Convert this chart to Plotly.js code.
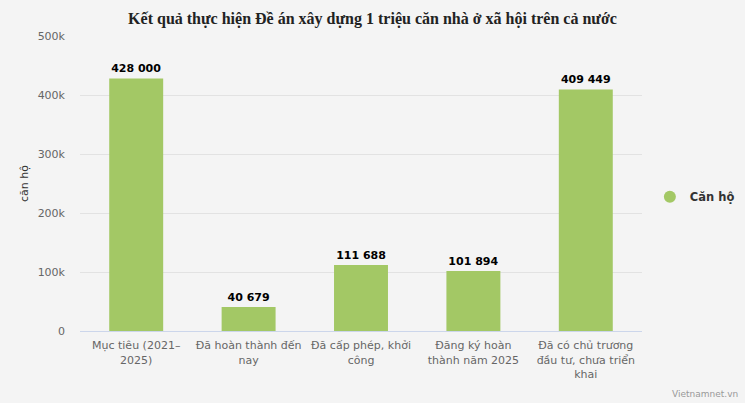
<!DOCTYPE html>
<html>
<head>
<meta charset="utf-8">
<script src="https://cdn.plot.ly/plotly-3.0.1.min.js"></script>
<style>html,body{margin:0;padding:0;background:#f4f4f4;}#chart{width:745px;height:403px;}</style>
</head>
<body>
<div id="chart"></div>
<script>
const categories = ["Mục tiêu (2021–<br>2025)", "Đã hoàn thành đến<br>nay", "Đã cấp phép, khởi<br>công", "Đăng ký hoàn<br>thành năm 2025", "Đã có chủ trương<br>đầu tư, chưa triển<br>khai"];
const values = [428000, 40679, 111688, 101894, 409449];
const seriesName = "Căn hộ";
const yTickVals = [0, 100000, 200000, 300000, 400000, 500000];
const yTickText = ["0", "100k", "200k", "300k", "400k", "500k"];

const green = "#a3c865";
const traces = [
  {
    type: "bar",
    x: categories,
    y: values,
    name: seriesName,
    showlegend: false,
    marker: {color: green},
    texttemplate: "%{y:,}",
    textposition: "outside",
    cliponaxis: false,
    textfont: {family: "DejaVu Sans, Verdana, sans-serif", size: 11, color: "#000", weight: "bold"},
    hoverinfo: "skip"
  },
  {
    type: "scatter",
    mode: "markers",
    x: [categories[0]],
    y: [null],
    name: seriesName,
    marker: {color: green, size: 12, symbol: "circle"},
    showlegend: true
  }
];

const layout = {
  width: 745, height: 403,
  paper_bgcolor: "#f4f4f4",
  plot_bgcolor: "#f4f4f4",
  separators: ". ",
  margin: {l: 80, r: 103, t: 36, b: 72, autoexpand: false},
  title: {
    text: "<b>Kết quả thực hiện Đề án xây dựng 1 triệu căn nhà ở xã hội trên cả nước</b>",
    font: {family: "Liberation Serif, Times New Roman, serif", size: 16, color: "#222"},
    x: 0.5, xanchor: "center", y: 0.955, yanchor: "middle"
  },
  bargap: 0.52,
  xaxis: {
    type: "category",
    tickfont: {family: "DejaVu Sans, Verdana, sans-serif", size: 11, color: "#666"},
    showline: true, linecolor: "#ccd6eb", linewidth: 1,
    ticks: "", showgrid: false, zeroline: false,
    ticklabelstandoff: 4
  },
  yaxis: {
    range: [0, 500000],
    tickvals: yTickVals, ticktext: yTickText,
    tickfont: {family: "DejaVu Sans, Verdana, sans-serif", size: 11, color: "#666"},
    gridcolor: "#e2e2e2", gridwidth: 1,
    zeroline: false, showline: false, ticks: "",
    ticklabelstandoff: 14,
    title: {text: "căn hộ", font: {family: "DejaVu Sans, Verdana, sans-serif", size: 11, color: "#333"}, standoff: 6}
  },
  legend: {
    x: 1.014, xanchor: "left", y: 0.455, yanchor: "middle",
    font: {family: "DejaVu Sans, Verdana, sans-serif", size: 11.5, color: "#333", weight: "bold"},
    bgcolor: "rgba(0,0,0,0)", itemsizing: "constant", itemwidth: 30
  },
  annotations: [
    {text: "Vietnamnet.vn", xref: "paper", yref: "paper", x: 1, y: 0, xanchor: "right", yanchor: "bottom",
     xshift: 98, yshift: -70, showarrow: false,
     font: {family: "DejaVu Sans, Verdana, sans-serif", size: 9, color: "#999"}}
  ]
};

Plotly.newPlot("chart", traces, layout, {displayModeBar: false, staticPlot: true});
</script>
</body>
</html>
